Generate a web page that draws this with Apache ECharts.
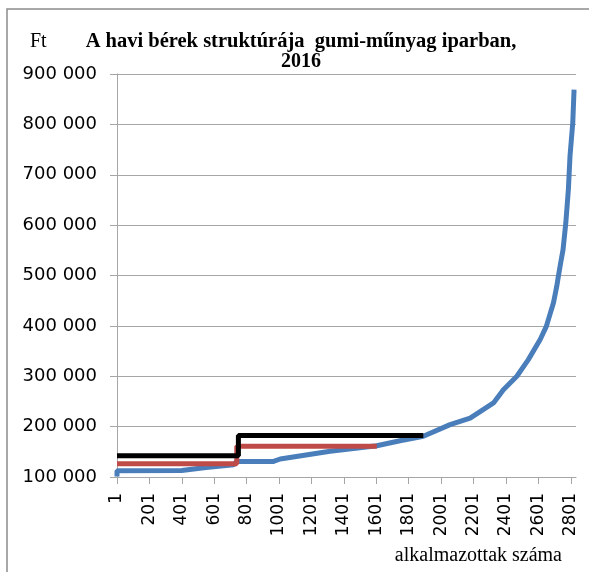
<!DOCTYPE html>
<html>
<head>
<meta charset="utf-8">
<script src="https://cdn.jsdelivr.net/npm/echarts@6/dist/echarts.min.js"></script>
<style>
  html, body { margin: 0; padding: 0; background: #fff; }
  #chart { width: 589px; height: 572px; }
</style>
</head>
<body>
<div id="chart"></div>
<script>
const chart = echarts.init(document.getElementById("chart"), null, { renderer: "canvas" });

// havi bér (Ft) a létszám-rangsor szerint: [sorszám, bér]
const wageCurve = [
  [1, 101000], [1, 112500], [400, 113000], [410, 116000], [550, 119000],
  [720, 124500], [740, 131000], [967, 131000], [1008, 135700], [1316, 151000],
  [1604, 162000], [1747, 172000], [1891, 181000], [2056, 204000], [2180, 217000],
  [2324, 247000], [2385, 273000], [2468, 300000], [2539, 333000], [2612, 373000],
  [2650, 399000], [2694, 446000], [2714, 478000], [2724, 498000], [2740, 528000],
  [2753, 551000], [2770, 604000], [2786, 671000], [2796, 737000], [2813, 803000],
  [2821, 869000]
];
const redLevel = [[1, 126500], [740, 126500], [740, 160800], [1604, 160800]];
const blackLevel = [[1, 142000], [750, 142000], [750, 182500], [1891, 182500]];

const titleText = "A havi bérek struktúrája  gumi-műnyag iparban,";
const titleYear = "2016";
const yUnit = "Ft";
const xName = "alkalmazottak száma";

const gray = "#a6a6a6";

function toPos(arr) {
  // sorszám 1 -> tengely 0
  return arr.map((p) => [p[0] - 1, p[1]]);
}

function fmtThousands(v) {
  return String(v).replace(/\B(?=(\d{3})+(?!\d))/g, " ");
}

const option = {
  animation: false,
  backgroundColor: "#fff",
  grid: { left: 117, right: 13, top: 74, bottom: 95 },
  xAxis: {
    type: "value",
    min: 0,
    max: 2832,
    interval: 200,
    axisLine: { show: true, lineStyle: { color: gray, width: 1 } },
    axisTick: { show: true, length: 7, lineStyle: { color: gray } },
    splitLine: { show: false },
    axisLabel: {
      rotate: 90,
      margin: 16,
      color: "#000",
      fontFamily: "DejaVu Sans",
      fontSize: 17,
      showMaxLabel: false,
      formatter: (v) => (v % 200 === 0 ? String(v + 1) : ""),
    },
  },
  yAxis: {
    type: "value",
    min: 100000,
    max: 900000,
    interval: 100000,
    axisLine: { show: true, lineStyle: { color: gray, width: 1 } },
    axisTick: { show: true, length: 7, lineStyle: { color: gray } },
    splitLine: { show: true, lineStyle: { color: gray, width: 1 } },
    axisLabel: {
      margin: 20,
      color: "#000",
      fontFamily: "DejaVu Sans",
      fontSize: 18,
      formatter: fmtThousands,
    },
  },
  series: [
    {
      name: "bérek",
      type: "line",
      data: toPos(wageCurve),
      showSymbol: false,
      lineStyle: { color: "#4a7ebb", width: 5 },
      itemStyle: { color: "#4a7ebb" },
      z: 2,
    },
    {
      name: "piros",
      type: "line",
      data: toPos(redLevel),
      showSymbol: false,
      lineStyle: { color: "#be4b48", width: 5 },
      itemStyle: { color: "#be4b48" },
      z: 3,
    },
    {
      name: "fekete",
      type: "line",
      data: toPos(blackLevel),
      showSymbol: false,
      lineStyle: { color: "#000", width: 5 },
      itemStyle: { color: "#000" },
      z: 4,
    },
  ],
  graphic: [
    {
      type: "rect",
      shape: { x: 7, y: 9, width: 700, height: 700 },
      style: { fill: null, stroke: "#8c8c8c", lineWidth: 1.5 },
      silent: true,
    },
    {
      type: "text",
      x: 301,
      y: 42,
      style: {
        text: titleText,
        fill: "#000",
        font: "bold 20.5px 'Liberation Serif'",
        textAlign: "center",
        textVerticalAlign: "middle",
      },
    },
    {
      type: "text",
      x: 301,
      y: 62,
      style: {
        text: titleYear,
        fill: "#000",
        font: "bold 20px 'Liberation Serif'",
        textAlign: "center",
        textVerticalAlign: "middle",
      },
    },
    {
      type: "text",
      x: 30,
      y: 42,
      style: {
        text: yUnit,
        fill: "#000",
        font: "20px 'Liberation Serif'",
        textAlign: "left",
        textVerticalAlign: "middle",
      },
    },
    {
      type: "text",
      x: 562,
      y: 556,
      style: {
        text: xName,
        fill: "#000",
        font: "20px 'Liberation Serif'",
        textAlign: "right",
        textVerticalAlign: "middle",
      },
    },
  ],
};

chart.setOption(option);

window.addEventListener("resize", function () {
  chart.resize();
});
</script>
</body>
</html>
